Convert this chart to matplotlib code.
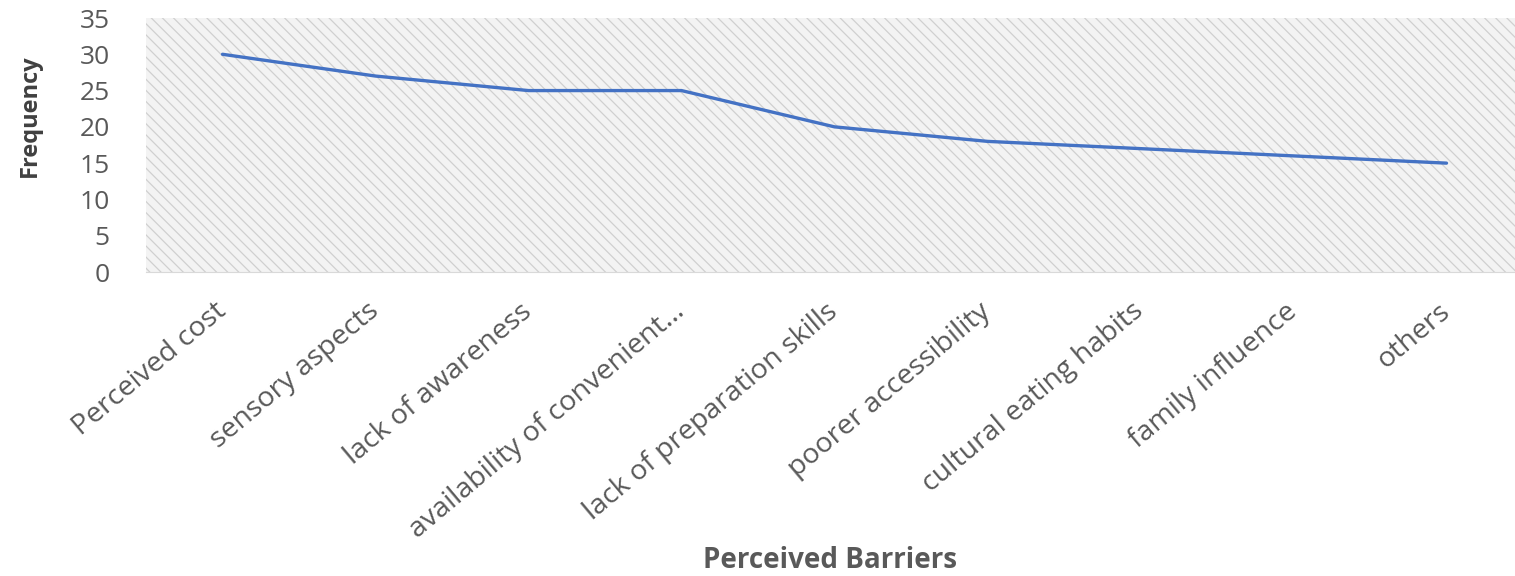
import matplotlib.pyplot as plt
from matplotlib.patches import Rectangle
from matplotlib.transforms import ScaledTranslation

# Données
barrieres = ['Perceived cost', 'sensory aspects', 'lack of awareness',
             'availability of convenient…', 'lack of preparation skills',
             'poorer accessibility', 'cultural eating habits',
             'family influence', 'others']
frequence = [30, 27, 25, 25, 20, 18, 17, 16, 15]
y_ticks = [0, 5, 10, 15, 20, 25, 30, 35]

plt.rcParams['font.family'] = ['Open Sans', 'DejaVu Sans']
plt.rcParams['hatch.linewidth'] = 0.9

fig = plt.figure(figsize=(15.15, 5.76), dpi=100)
ax = fig.add_axes([146 / 1515, 1 - 272 / 576, 1377 / 1515, 254 / 576])

# Fond hachuré
fond = Rectangle((0, 0), 1, 1, transform=ax.transAxes, facecolor='#f3f3f3',
                 edgecolor='#d0d0d0', hatch='\\\\\\', linewidth=0, zorder=0)
ax.add_patch(fond)

x = list(range(len(barrieres)))
ax.plot(x, frequence, color='#4472C4', linewidth=2.4,
        solid_joinstyle='round', solid_capstyle='round', zorder=3)

ax.set_xlim(-0.5, len(barrieres) - 0.5)
ax.set_ylim(0, 35)
ax.set_yticks(y_ticks)
ax.set_xticks(x)
ax.set_xticklabels(barrieres, rotation=40, ha='right', va='center',
                   rotation_mode='anchor')
# décalage des étiquettes vers la gauche
decalage = ScaledTranslation(-10 / 100, 0, fig.dpi_scale_trans)
for lab in ax.get_xticklabels():
    lab.set_transform(lab.get_transform() + decalage)

for s in ['top', 'right', 'left']:
    ax.spines[s].set_visible(False)
ax.spines['bottom'].set_color('#d9d9d9')
ax.tick_params(axis='both', length=0, colors='#595959')
ax.tick_params(axis='y', pad=26, labelsize=19)
ax.tick_params(axis='x', pad=26, labelsize=20.5)

ax.set_ylabel('Frequency', fontsize=17, fontweight='bold', color='#404040')
ax.yaxis.set_label_coords((42 - 146) / 1377, 0.614)
ax.set_xlabel('Perceived Barriers', fontsize=20, fontweight='bold',
              color='#595959')
ax.xaxis.set_label_coords((830 - 146) / 1377, -(546 - 272) / 254)

fig.savefig('out.png', dpi=100)
